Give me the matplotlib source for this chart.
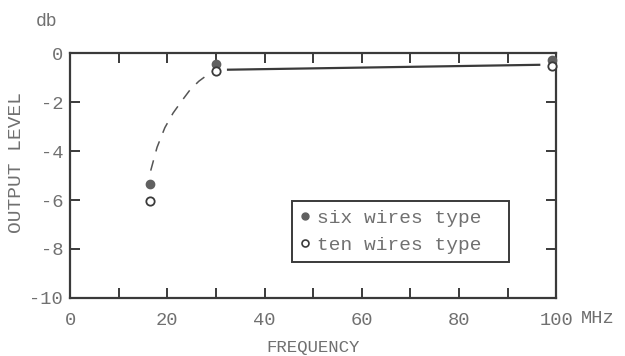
import matplotlib
matplotlib.use("Agg")
import matplotlib.pyplot as plt
from matplotlib.lines import Line2D

# measured points (MHz, db)
freq = [16.5, 30, 99.2]
six_wires = [-5.35, -0.45, -0.3]
ten_wires = [-6.05, -0.72, -0.52]

# hand-drawn dashed curve and solid line
dash_x = [16.6, 17.9, 19.5, 21.2, 23.0, 24.7, 26.5, 28.2, 30.0]
dash_y = [-4.8, -3.85, -3.05, -2.45, -1.95, -1.5, -1.15, -0.9, -0.68]
solid_x = [32.5, 96.5]
solid_y = [-0.68, -0.48]

x_ticks = [0, 10, 20, 30, 40, 50, 60, 70, 80, 90, 100]
x_labels = ["0", "", "20", "", "40", "", "60", "", "80", "", "100"]
y_ticks = [0, -2, -4, -6, -8, -10]
y_labels = ["0", "-2", "-4", "-6", "-8", "-10"]

INK = "#3a3a3a"
TXT = "#707070"
FONT = "Liberation Mono"

fig = plt.figure(figsize=(6.25, 3.56), dpi=100)
ax = fig.add_axes([0.112, 0.163, 0.778, 0.688])

ax.plot(dash_x, dash_y, color="#555555", lw=1.1, dashes=(7, 6))
ax.plot(solid_x, solid_y, color=INK, lw=1.6)
ax.plot(freq, six_wires, "o", color="#606060", ms=6, zorder=5, clip_on=False)
ax.plot(freq, ten_wires, "o", mfc="white", mec=INK, mew=1.3, ms=6, zorder=5,
        clip_on=False)

ax.set_xlim(0, 100)
ax.set_ylim(-10, 0)
ax.set_xticks(x_ticks)
ax.set_xticklabels(x_labels)
ax.set_yticks(y_ticks)
ax.set_yticklabels(y_labels)
ax.tick_params(direction="in", length=7, width=1.4, color=INK,
               top=True, right=True, labelsize=13.5, labelcolor=TXT)
ax.tick_params(axis="x", pad=10)
ax.tick_params(axis="y", pad=5)
for lbl in ax.get_xticklabels() + ax.get_yticklabels():
    lbl.set_family(FONT)
for sp in ax.spines.values():
    sp.set_color(INK)
    sp.set_linewidth(1.6)

ax.set_xlabel("FREQUENCY", family=FONT, fontsize=12.5, color=TXT, labelpad=8)
fig.text(17 / 625, 1 - 163 / 356, "OUTPUT LEVEL", family=FONT, fontsize=14,
         color=TXT, rotation=90, ha="center", va="center")
ax.text(-0.07, 1.13, "db", transform=ax.transAxes, family=FONT,
        fontsize=13, color=TXT, ha="left", va="center")
ax.text(1.05, -0.082, "MHz", transform=ax.transAxes, family=FONT,
        fontsize=13.5, color=TXT, ha="left", va="center")

handles = [
    Line2D([], [], ls="none", marker="o", color="#606060", ms=5),
    Line2D([], [], ls="none", marker="o", mfc="white", mec=INK, mew=1.2, ms=5),
]
leg = ax.legend(handles, ["six wires type", "ten wires type"],
                loc="lower left", bbox_to_anchor=(0.457, 0.147, 0.446, 0.261),
                mode="expand", fancybox=False, framealpha=1, edgecolor=INK,
                handlelength=0.5, handletextpad=0.35, borderpad=0.4,
                borderaxespad=0, labelspacing=0.5,
                prop={"family": FONT, "size": 14})
leg.get_frame().set_linewidth(1.4)
for t in leg.get_texts():
    t.set_color(TXT)

fig.savefig("out.png", dpi=100)
